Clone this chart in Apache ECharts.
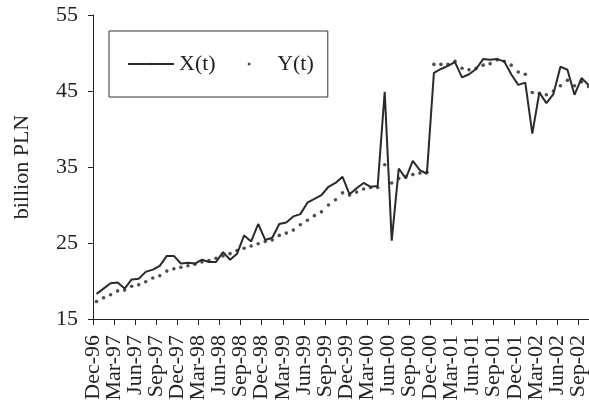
<!DOCTYPE html>
<html>
<head>
<meta charset="utf-8">
<script src="https://cdn.jsdelivr.net/npm/echarts@6/dist/echarts.min.js"></script>
<style>
  html, body { margin: 0; padding: 0; background: #ffffff; }
  #chart { width: 589px; height: 409px; }
</style>
</head>
<body>
<div id="chart"></div>
<script>
// Quarterly tick labels (every 3rd month, starting Dec-96)
var tickLabels = ['Dec-96','Mar-97','Jun-97','Sep-97','Dec-97','Mar-98','Jun-98','Sep-98',
  'Dec-98','Mar-99','Jun-99','Sep-99','Dec-99','Mar-00','Jun-00','Sep-00','Dec-00',
  'Mar-01','Jun-01','Sep-01','Dec-01','Mar-02','Jun-02','Sep-02'];

// Monthly values, Dec-96 .. Oct-02 (billion PLN)
var seriesX = [
  18.3, 19.0, 19.7, 19.8, 19.0, 20.2, 20.3, 21.2, 21.5, 22.0, 23.3, 23.3,
  22.3, 22.4, 22.3, 22.8, 22.5, 22.5, 23.8, 22.8, 23.6, 26.0, 25.2, 27.5,
  25.4, 25.7, 27.5, 27.7, 28.5, 28.8, 30.3, 30.8, 31.3, 32.4, 32.9, 33.7,
  31.4, 32.2, 32.9, 32.4, 32.5, 44.9, 25.3, 34.8, 33.5, 35.8, 34.6, 34.1,
  47.4, 47.9, 48.3, 48.8, 46.8, 47.2, 47.9, 49.2, 49.1, 49.2, 48.9, 47.2,
  45.8, 46.1, 39.4, 44.8, 43.4, 44.6, 48.2, 47.8, 44.5, 46.7, 45.8
];
var seriesY = [
  17.3, 17.8, 18.2, 18.7, 18.8, 19.3, 19.5, 19.9, 20.4, 20.7, 21.3, 21.6,
  21.8, 22.0, 22.2, 22.5, 22.7, 23.0, 23.3, 23.6, 24.0, 24.3, 24.6, 24.9,
  25.2, 25.4, 26.0, 26.3, 26.7, 27.4, 28.0, 28.6, 29.1, 30.0, 30.7, 31.6,
  31.3, 31.7, 32.1, 32.3, 32.3, 35.3, 32.9, 33.5, 33.7, 34.0, 34.2, 34.3,
  48.5, 48.5, 48.5, 48.9, 48.0, 47.8, 48.0, 48.4, 48.6, 49.1, 48.9, 48.4,
  47.5, 47.2, 44.8, 44.7, 44.5, 45.0, 45.7, 46.4, 45.7, 46.2, 45.6
];
var seriesNames = ['X(t)', 'Y(t)'];
var yTicks = { min: 15, max: 55, step: 10 };

// Half-month slots: month boundaries at even slots, month mid-points at odd slots
var nSlots = 2 * seriesX.length;
var slots = [];
for (var j = 0; j < nSlots; j++) { slots.push('s' + j); }
function toSlots(arr) {
  var out = [];
  for (var j = 0; j < nSlots; j++) { out.push(j % 2 === 1 ? arr[(j - 1) / 2] : null); }
  return out;
}

var chart = echarts.init(document.getElementById('chart'), null, { renderer: 'canvas' });
var serif = '"Liberation Serif", "Times New Roman", serif';
var ink = '#222';

chart.setOption({
  animation: false,
  backgroundColor: '#ffffff',
  grid: { left: 93, top: 15, right: 0, bottom: 90, containLabel: false },
  legend: {
    left: 109, top: 31,
    orient: 'horizontal',
    padding: [22, 14, 22, 18],
    borderColor: '#333', borderWidth: 1,
    itemWidth: 46, itemHeight: 3, itemGap: 32,
    textStyle: { fontFamily: serif, fontSize: 22, color: ink },
    data: [seriesNames[0], seriesNames[1]]
  },
  xAxis: {
    type: 'category',
    data: slots,
    boundaryGap: false,
    splitLine: { show: false },
    axisLine: { show: true, lineStyle: { color: ink, width: 1 } },
    axisTick: {
      show: true, length: 6, lineStyle: { color: ink },
      interval: function (idx) { return idx % 6 === 0; }
    },
    axisLabel: {
      interval: 0,
      rotate: 90, margin: 16,
      fontFamily: serif, fontSize: 22, color: ink,
      formatter: function (val, idx) {
        return idx % 6 === 0 ? (tickLabels[idx / 6] || '') : '';
      }
    }
  },
  yAxis: {
    type: 'value',
    min: yTicks.min, max: yTicks.max, interval: yTicks.step,
    name: 'billion PLN',
    nameLocation: 'middle', nameRotate: 90, nameGap: 60,
    nameTextStyle: { fontFamily: serif, fontSize: 22, color: ink },
    splitLine: { show: false },
    axisLine: { show: true, lineStyle: { color: ink, width: 1 } },
    axisTick: { show: true, length: 5, lineStyle: { color: ink } },
    axisLabel: { margin: 15, fontFamily: serif, fontSize: 22, color: ink, showMinLabel: true }
  },
  series: [
    {
      name: seriesNames[0], type: 'line',
      data: toSlots(seriesX),
      connectNulls: true,
      symbol: 'none',
      lineStyle: { color: '#2a2a2a', width: 2 },
      itemStyle: { color: '#2a2a2a' },
      z: 3
    },
    {
      name: seriesNames[1], type: 'scatter',
      data: toSlots(seriesY),
      symbol: 'circle', symbolSize: 3.6,
      itemStyle: { color: '#222' },
      z: 2
    }
  ]
});
</script>
</body>
</html>
